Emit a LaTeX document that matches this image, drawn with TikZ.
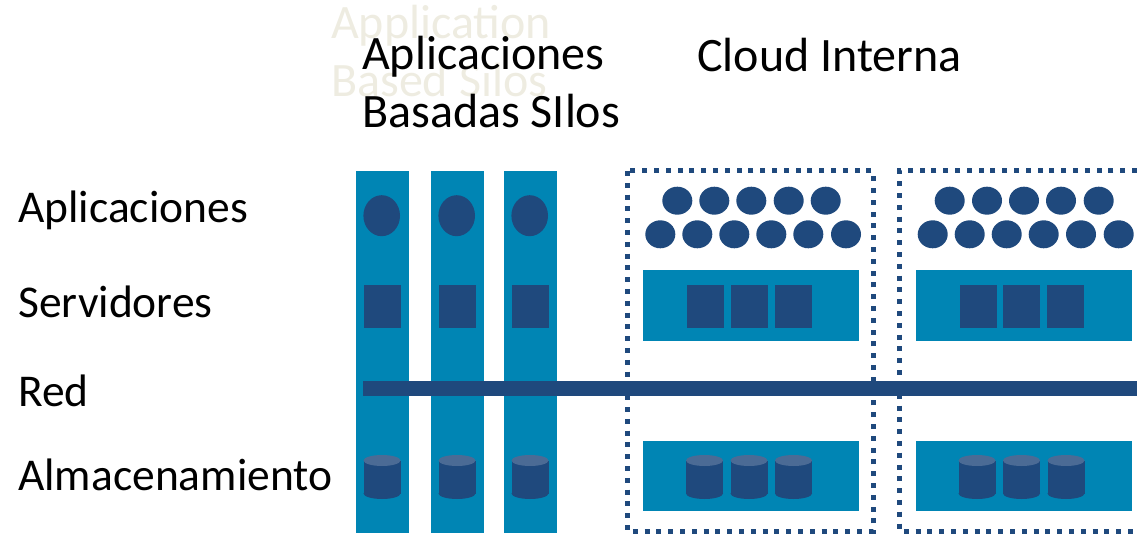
\documentclass[tikz,border=0pt]{standalone}
\usepackage{fontspec}
\setmainfont{Carlito}
\definecolor{silo}{HTML}{0085B4}
\definecolor{navy}{HTML}{1F497D}
\definecolor{navytop}{HTML}{4B6B95}
\definecolor{ghost}{HTML}{EEECE1}
\tikzset{
  rowtext/.style={anchor=base west, inner sep=0pt, font=\fontsize{45.5}{58}\selectfont},
  titletext/.style={anchor=base west, inner sep=0pt, font=\fontsize{48}{58}\selectfont},
  cloudbox/.style={draw=navy, line width=5pt, dash pattern=on 5pt off 6.8pt},
}

\begin{document}
\begin{tikzpicture}[x=1pt, y=-1pt]
        \useasboundingbox (0,0) rectangle (1137,534);
        % Titles
        \node[titletext, text=ghost] (ghostapp) at (331,39) {Application};
        \node[titletext, text=ghost] (ghostsilo) at (331,97) {Based Silos};
        \node[titletext] (silotitle) at (362,70) {Aplicaciones};
        \node[titletext] (silotitleb) at (362,128) {Basadas SIlos};
        \node[titletext] (cloudtitle) at (697,72) {Cloud Interna};
        % Layers
        \node[rowtext] (lapps) at (18,222.5) {Aplicaciones};
        \node[rowtext] (lservers) at (18,318) {Servidores};
        \node[rowtext] (lnet) at (18,406.5) {Red};
        \node[rowtext] (lstorage) at (18,490) {Almacenamiento};
        % Silos
        \foreach \x in {356,431,504} {
            \fill[silo] (\x,171) rectangle ++(53,362);
            \fill[navy] (\x+25.7,215.7) ellipse (18.3pt and 20.5pt);
        }
        % Cloud panels
        \fill[silo] (643,270) rectangle (859,341);
        \fill[silo] (916,270) rectangle (1132,341);
        \fill[silo] (643,441) rectangle (859,510.7);
        \fill[silo] (916,441) rectangle (1132,510.7);
        % Servers
        \foreach \x in {363.5,438.5,511.5,687,731,775,960,1003,1047}
            \fill[navy] (\x,285) rectangle ++(37,43.5);
        % Applications
        \foreach \x in {677.3,714.3,751.3,788.7,825.7,949.7,987,1024,1061,1098.7}
            \fill[navy] (\x,200.7) ellipse (15pt and 14pt);
        \foreach \x in {660.3,697.3,734.3,771.3,808.3,846,932.7,969.7,1006.7,1043.7,1081,1118.7}
            \fill[navy] (\x,234.3) ellipse (15pt and 14pt);
        % Storage
        \foreach \x in {363.5,438.5,511.5,686,730.5,775,958.5,1003,1047.5} {
            \fill[navy] (\x,460.5) rectangle ++(37,33);
            \fill[navy] (\x+18.5,493.5) ellipse (18.5pt and 5.5pt);
            \fill[navytop] (\x+18.5,460.5) ellipse (18.5pt and 5.5pt);
        }
        % Cloud borders
        \draw[cloudbox] (627,171) rectangle (873,531);
        \draw[cloudbox] (1137,171) -- (899.5,171) -- (899.5,531) -- (1137,531);
        % Network
        \fill[navy] (363,381) rectangle (1137,396);
\end{tikzpicture}
\end{document}
